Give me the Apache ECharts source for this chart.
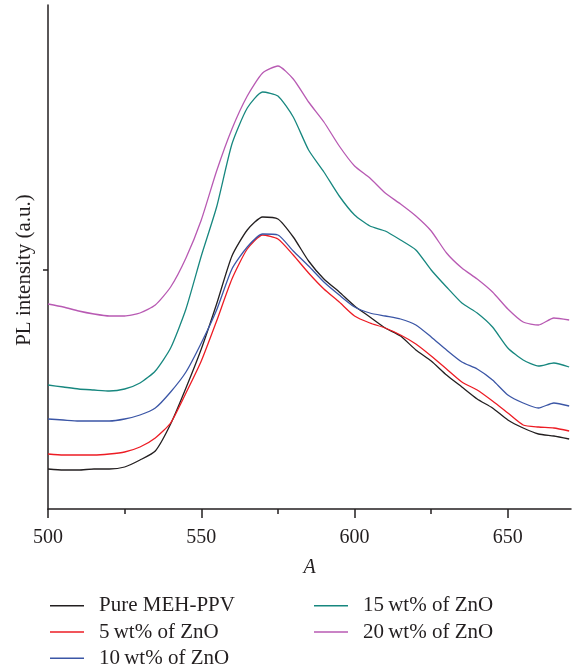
<!DOCTYPE html>
<html><head><meta charset="utf-8">
<script src="https://cdn.jsdelivr.net/npm/echarts@6/dist/echarts.min.js"></script>
<style>html,body{margin:0;padding:0;background:#fff}#c{width:572px;height:668px}</style>
</head><body><div id="c"></div>
<script>
// x: wavelength (nm)
const wavelength = [500,505,510,515,520,525,530,535,540,545,550,555,560,565,570,575,580,585,590,595,600,605,610,615,620,625,630,635,640,645,650,655,660,665,670];
// PL intensity (a.u.)
const pureMEHPPV = [40,39,39,40,40,42,49,58,85,121,160,205,253,279,292,290,272,248,230,217,203,192,181,173,159,148,134,122,110,101,89,81,75,73,70];
const zno5 = [55,54,54,54,55,57,62,71,86,116,148,188,230,260,274,270,254,236,220,207,193,186,181,174,165,153,140,127,119,108,96,84,82,81,78];
const zno10 = [90,89,88,88,88,90,94,101,117,137,166,199,240,262,275,274,258,243,227,214,202,196,193,190,184,172,159,147,140,129,114,106,101,106,103];
const zno15 = [124,122,120,119,118,120,126,138,161,200,253,302,365,401,417,413,392,359,337,313,294,283,278,269,259,239,222,206,196,182,161,149,143,146,142];
const zno20 = [205,202,198,195,193,193,196,204,222,251,289,338,380,413,436,443,430,407,387,363,343,331,316,305,293,278,256,241,230,217,200,187,184,191,189];

const seriesNames = ['Pure MEH-PPV','5\u2009wt% of ZnO','10\u2009wt% of ZnO','15\u2009wt% of ZnO','20\u2009wt% of ZnO'];
const seriesValues = [pureMEHPPV, zno5, zno10, zno15, zno20];
const seriesColors = ['#231f20','#ed1c24','#3b56a6','#17877f','#b85ab3'];

const xTicks = [500,550,600,650];
const xMinorTicks = [525,575,625];
const yTicks = [239];

const FONT = '"Liberation Serif", "DejaVu Serif", serif';
const AXIS = {color:'#231f20', width:1.5};
const LEGEND_ICON = 'path://M0,0H34V1.6H0Z';

const legendCommon = {
  orient:'vertical', top:594.7, height:100, padding:0,
  itemWidth:34, itemHeight:14, itemGap:4.3, icon:LEGEND_ICON,
  textStyle:{fontFamily:FONT, fontSize:21, color:'#231f20', lineHeight:22, padding:[0,0,0,10]}
};

const chart = echarts.init(document.getElementById('c'), null, {renderer:'canvas'});
chart.setOption({
  animation:false,
  backgroundColor:'#fff',
  grid:{left:48, right:1, top:5, bottom:159, containLabel:false},
  xAxis:[{
    type:'value', min:500, max:670.6,
    name:'A', nameLocation:'middle', nameGap:49,
    nameTextStyle:{fontFamily:FONT, fontSize:20, fontStyle:'italic', color:'#231f20'},
    axisLine:{show:true, lineStyle:AXIS},
    axisTick:{show:true, inside:false, length:9, lineStyle:AXIS, customValues:xTicks},
    axisLabel:{show:true, margin:19, fontFamily:FONT, fontSize:20, color:'#231f20', customValues:xTicks},
    splitLine:{show:false}
  },{
    type:'value', min:500, max:670.6, position:'bottom',
    axisLine:{show:false},
    axisTick:{show:true, inside:false, length:5, lineStyle:AXIS, customValues:xMinorTicks},
    axisLabel:{show:false},
    splitLine:{show:false}
  }],
  yAxis:{
    type:'value', min:0, max:504,
    name:'PL intensity (a.u.)', nameLocation:'middle', nameGap:13,
    nameTextStyle:{fontFamily:FONT, fontSize:21, color:'#231f20', padding:[0,26,0,0]},
    axisLine:{show:true, lineStyle:AXIS},
    axisTick:{show:true, inside:false, length:5, lineStyle:AXIS, customValues:yTicks},
    axisLabel:{show:false},
    splitLine:{show:false}
  },
  legend:[
    Object.assign({data:seriesNames.slice(0,3), left:50}, legendCommon),
    Object.assign({data:seriesNames.slice(3), left:314}, legendCommon)
  ],
  series: seriesNames.map((n,i)=>({
    name:n, type:'line', xAxisIndex:0, symbol:'none', smooth:0.2,
    color:seriesColors[i],
    itemStyle:{color:seriesColors[i]},
    lineStyle:{color:seriesColors[i], width:1.3},
    data: wavelength.map((w,j)=>[w, seriesValues[i][j]])
  }))
});
</script></body></html>
